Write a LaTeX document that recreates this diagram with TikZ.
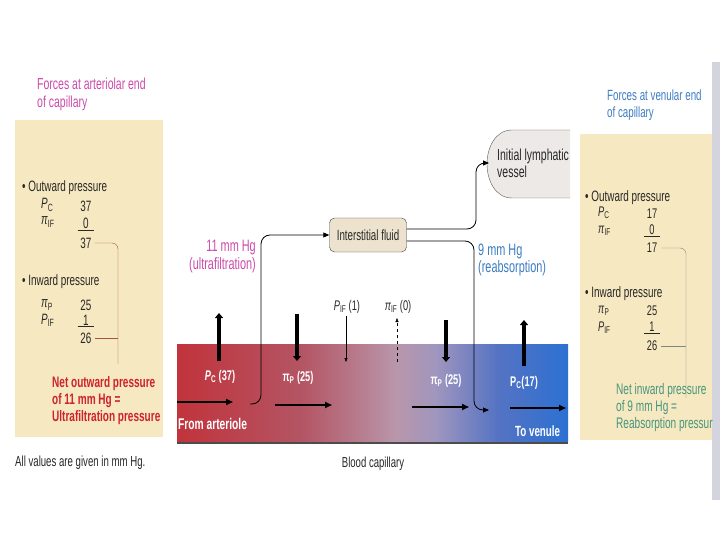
\documentclass[tikz,border=0pt]{standalone}
\usepackage{fontspec}
\setmainfont{Liberation Sans}[FakeStretch=0.66]
\usetikzlibrary{arrows.meta,calc,positioning}

\definecolor{boxbeige}{RGB}{246,232,192}
\definecolor{titlepink}{RGB}{205,75,170}
\definecolor{netred}{RGB}{205,35,45}
\definecolor{venblue}{RGB}{60,125,195}
\definecolor{netgreen}{RGB}{70,150,125}
\definecolor{isfill}{RGB}{236,226,206}
\definecolor{lyfill}{RGB}{236,233,230}
\definecolor{capA}{RGB}{205,35,40}
\definecolor{capB}{RGB}{195,45,52}
\definecolor{capC}{RGB}{180,85,100}
\definecolor{capD}{RGB}{185,150,170}
\definecolor{capE}{RGB}{160,150,190}
\definecolor{capF}{RGB}{85,115,195}
\definecolor{capG}{RGB}{40,112,212}
\definecolor{capH}{RGB}{30,115,215}
\definecolor{brred}{RGB}{170,80,75}
\definecolor{brgray}{RGB}{125,135,135}
\definecolor{scanedge}{RGB}{212,212,222}
\definecolor{ink}{RGB}{40,40,40}

\pgfdeclarehorizontalshading{capshade}{100bp}{color(0bp)=(capA); color(22bp)=(capB); color(41bp)=(capC); color(53bp)=(capD); color(58bp)=(capE); color(66bp)=(capF); color(76bp)=(capG); color(100bp)=(capH)}

\newcommand{\presPC}{\textit{P}\textsubscript{C}}
\newcommand{\presPIF}{\textit{P}\textsubscript{IF}}
\newcommand{\presPiP}{\textit{π}\textsubscript{P}}
\newcommand{\presPiIF}{\textit{π}\textsubscript{IF}}

\begin{document}
\begin{tikzpicture}[x=1pt,y=-1pt,
  txt/.style={anchor=west, inner sep=0pt, text=ink, font=\fontsize{15}{17}\selectfont},
  val/.style={inner sep=0pt, text=ink, font=\fontsize{15}{17}\selectfont},
  title/.style={anchor=west, align=left, inner sep=0pt, font=\fontsize{15.9}{18}\selectfont},
  netnote/.style={anchor=west, align=left, inner sep=0pt, font=\bfseries\fontsize{15.2}{17}\selectfont},
  caplbl/.style={inner sep=0pt, text=white, font=\bfseries\fontsize{14}{15}\selectfont},
  isfbox/.style={draw=black!75, fill=isfill, rounded corners=5pt, minimum width=77pt, minimum height=34pt, text=ink, font=\fontsize{14.8}{16}\selectfont},
  flow/.style={line width=1.6pt, -{Triangle[length=7pt,width=6pt]}},
  push/.style={line width=4pt, -{Triangle[length=5pt,width=8pt]}},
  conn/.style={thick, rounded corners=9pt, -{Triangle[length=6pt,width=5pt]}}]
  \useasboundingbox (0,0) rectangle (720,540);
  \fill[white] (0,0) rectangle (720,540);
  \fill[scanedge] (712,62) rectangle (720,500);

  % Left panel: arteriolar end
  \node[title, text=titlepink] (titL) at (37,94) {Forces at arteriolar end\\of capillary};
  \fill[boxbeige] (15,120) rectangle (163,437);
  \node[txt] (outwL) at (22,188) {• Outward pressure};
  \node[txt] (pcL) at (41,205) {\presPC};
  \node[val] at (86,206) {37};
  \node[txt] (piifL) at (41,222) {\presPiIF};
  \node[val] at (86,224) {\underline{\hphantom{3}0\hphantom{3}}};
  \node[val] (sumoutL) at (86,243) {37};
  \node[txt] (inwL) at (22,282) {• Inward pressure};
  \node[txt] (pipL) at (41,305) {\presPiP};
  \node[val] at (86,305) {25};
  \node[txt] (pifL) at (41,320) {\presPIF};
  \node[val] at (86,321) {\underline{\hphantom{3}1\hphantom{3}}};
  \node[val] (suminL) at (86,338) {26};
  \coordinate (brL) at (118,364);
  \draw[brred, rounded corners=6pt] (sumoutL.east) ++(3,0) -| (brL);
  \draw[brred, rounded corners=4pt] (suminL.east) ++(3,0) -- (118,338);
  \node[netnote, text=netred] (netL) at (52,401) {Net outward pressure\\of 11 mm Hg =\\Ultrafiltration pressure};
  \node[anchor=west, inner sep=0pt, text=ink, font=\fontsize{14.6}{16}\selectfont] (allval) at (15,463) {All values are given in mm Hg.};

  % Right panel: venular end
  \node[title, text=venblue, font=\fontsize{14.8}{17}\selectfont] (titR) at (607,105) {Forces at venular end\\of capillary};
  \fill[boxbeige] (580,134) rectangle (712,440);
  \node[txt] (outwR) at (585,198) {• Outward pressure};
  \node[txt, font=\fontsize{14}{16}\selectfont] (pcR) at (598,213) {\presPC};
  \node[val, font=\fontsize{14}{16}\selectfont] at (652,214) {17};
  \node[txt, font=\fontsize{14}{16}\selectfont] (piifR) at (598,231) {\presPiIF};
  \node[val, font=\fontsize{14}{16}\selectfont] at (652,231) {\underline{\hphantom{3}0\hphantom{3}}};
  \node[val, font=\fontsize{14}{16}\selectfont] (sumoutR) at (652,248) {17};
  \node[txt] (inwR) at (585,294) {• Inward pressure};
  \node[txt, font=\fontsize{14}{16}\selectfont] (pipR) at (598,311) {\presPiP};
  \node[val, font=\fontsize{14}{16}\selectfont] at (652,311) {25};
  \node[txt, font=\fontsize{14}{16}\selectfont] (pifR) at (598,328) {\presPIF};
  \node[val, font=\fontsize{14}{16}\selectfont] at (652,328) {\underline{\hphantom{3}1\hphantom{3}}};
  \node[val, font=\fontsize{14}{16}\selectfont] (suminR) at (652,346) {26};
  \coordinate (brR) at (686,398);
  \draw[brgray, rounded corners=6pt] (sumoutR.east) ++(4,0) -| (brR);
  \draw[brgray, rounded corners=4pt] (suminR.east) ++(4,0) -- (686,346);
  \begin{scope}
    \clip (580,380) rectangle (712,440);
    \node[netnote, text=netgreen, font=\fontsize{15.3}{17}\selectfont] (netR) at (616,408) {Net inward pressure\\of 9 mm Hg =\\Reabsorption pressure};
  \end{scope}

  % Blood capillary
  \fill[black!70] (177,440) rectangle (568,444);
  \shade[shading=capshade] (177,344) rectangle (568,441);
  \node[text=ink, font=\fontsize{14.5}{16}\selectfont, inner sep=0pt] (bcap) at (373,464) {Blood capillary};
  \node[caplbl, anchor=west, font=\bfseries\fontsize{15.5}{17}\selectfont] (fromart) at (178,424) {From arteriole};
  \node[caplbl, anchor=west, font=\bfseries\fontsize{14.8}{17}\selectfont] (toven) at (515,431) {To venule};

  % Flow along the capillary
  \draw[flow] (177,402) -- (233,402);
  \draw[flow] (275,405) -- (332,405);
  \draw[flow] (412,407) -- (469,407);
  \draw[flow] (510,408) -- (566,408);

  % Pressures across the wall
  \node[caplbl] (pc37) at (220,377) {\presPC\ (37)};
  \draw[push] (219,361) -- (219,313);
  \node[caplbl] (pip25a) at (298,378) {π\textsubscript{P} (25)};
  \draw[push] (297,314) -- (297,361);
  \node[inner sep=0pt, text=ink, font=\fontsize{14}{16}\selectfont] (pif1) at (347,307) {\presPIF\,(1)};
  \draw[thin, -{Triangle[length=4pt,width=3pt]}] (346,316) -- (346,362);
  \node[inner sep=0pt, text=ink, font=\fontsize{14}{16}\selectfont] (piif0) at (398,307) {\presPiIF\ (0)};
  \draw[thin, dashed, -{Triangle[length=4pt,width=3pt]}] (397,362) -- (397,318);
  \node[caplbl] (pip25b) at (446,381) {π\textsubscript{P} (25)};
  \draw[push] (446,320) -- (446,362);
  \node[caplbl] (pc17) at (524,383) {P\textsubscript{C}(17)};
  \draw[push] (524,366) -- (524,320);

  % Interstitial fluid and lymphatic vessel
  \node[isfbox] (isf) at (368,235) {Interstitial fluid};
  \fill[lyfill] (570,130) -- (512,130) .. controls (495,130) and (487,148) .. (487,164) .. controls (487,180) and (495,198) .. (512,198) -- (570,198) -- cycle;
  \draw[black!65] (570,130) -- (512,130) .. controls (495,130) and (487,148) .. (487,164) .. controls (487,180) and (495,198) .. (512,198) -- (570,198);
  \node[anchor=west, align=left, inner sep=0pt, text=ink, font=\fontsize{15.9}{17}\selectfont] (lymph) at (497,163) {Initial lymphatic\\vessel};
  \coordinate (lymphin) at (489,163);

  % Ultrafiltration
  \coordinate (uf0) at (250,404);
  \coordinate (uf1) at (261,235);
  \draw[conn] (uf0) -| (uf1) -- (isf.west);
  \node[anchor=east, align=right, inner sep=0pt, text=titlepink, font=\fontsize{16.5}{18}\selectfont] (uflbl) at (256,257) {11 mm Hg\\(ultrafiltration)};

  % Reabsorption
  \coordinate (ra0) at ([yshift=-6pt]isf.east);
  \coordinate (ra1) at (474,410);
  \coordinate (ra2) at (489,410);
  \draw[conn] (ra0) -| (ra1) -- (ra2);
  \node[anchor=west, align=left, inner sep=0pt, text=venblue, font=\fontsize{16.5}{17}\selectfont] (ralbl) at (478,260) {9 mm Hg\\(reabsorption)};

  % To lymphatic
  \coordinate (ly0) at ([yshift=6pt]isf.east);
  \coordinate (ly1) at (476,163);
  \draw[conn] (ly0) -| (ly1) -- (lymphin);
\end{tikzpicture}
\end{document}
